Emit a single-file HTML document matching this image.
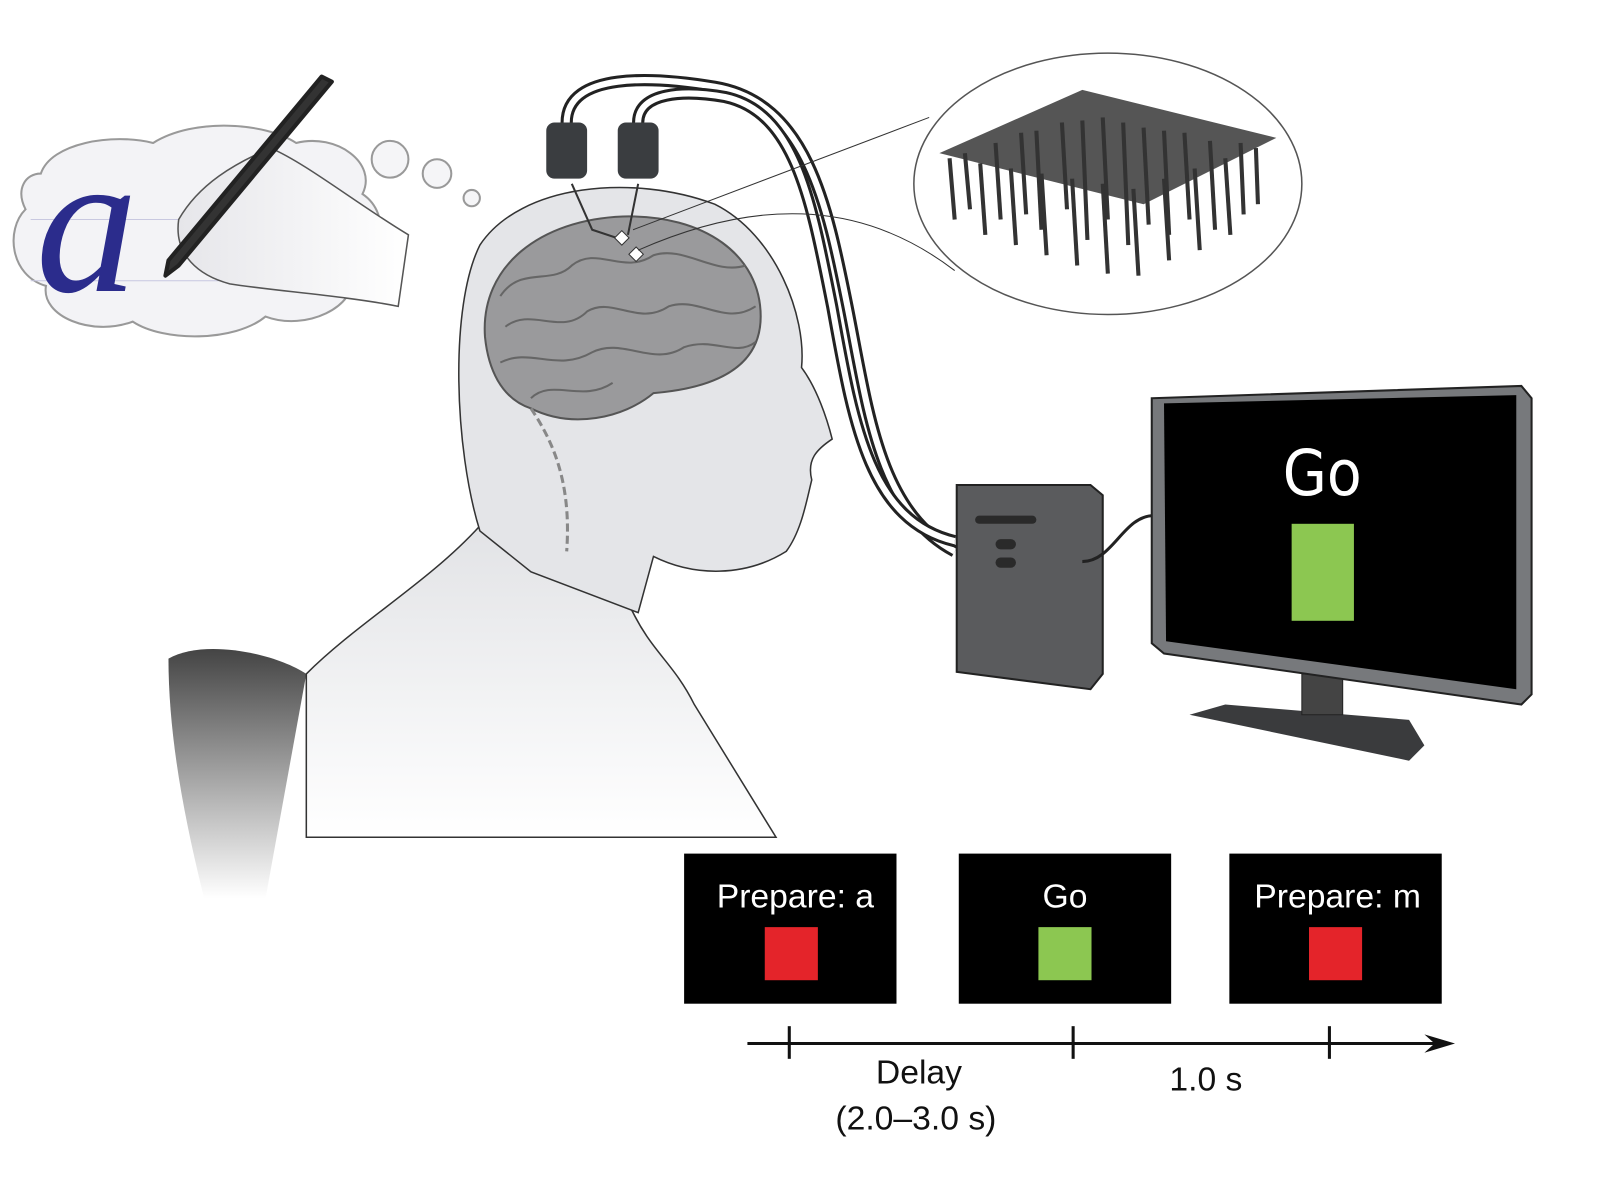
<!DOCTYPE html>
<html><head><meta charset="utf-8"><style>
html,body{margin:0;padding:0;background:#fff;}
svg{display:block}
</style></head><body>
<svg width="1600" height="1200" viewBox="0 0 1567 1175.25" preserveAspectRatio="none" xmlns="http://www.w3.org/2000/svg" font-family="Liberation Sans, sans-serif">
<defs>
<linearGradient id="body" x1="0" y1="0" x2="0" y2="1">
<stop offset="0" stop-color="#e2e3e6"/><stop offset="1" stop-color="#ffffff"/></linearGradient>
<linearGradient id="chair" x1="0" y1="0" x2="0" y2="1">
<stop offset="0" stop-color="#444"/><stop offset="1" stop-color="#fff"/></linearGradient>
<linearGradient id="hand" x1="0" y1="0" x2="1" y2="0">
<stop offset="0" stop-color="#e6e6ea"/><stop offset="1" stop-color="#ffffff"/></linearGradient>
</defs>
<rect width="1567" height="1176" fill="#fff"/>
<path d="M40,170 C50,140 110,130 150,140 C190,115 260,120 290,140 C330,130 370,160 355,190 C385,210 375,260 345,270 C350,300 300,325 260,310 C230,335 160,335 130,315 C90,330 40,310 45,280 C10,270 5,225 25,205 C15,185 25,170 40,170 Z" fill="#f3f3f6" stroke="#999" stroke-width="2"/>
<line x1="30" y1="215" x2="350" y2="215" stroke="#c8c8e0" stroke-width="1"/>
<line x1="30" y1="275" x2="350" y2="275" stroke="#c8c8e0" stroke-width="1"/>
<text x="35" y="285" style="font-family:'Liberation Serif',serif;font-style:italic;font-size:200px" fill="#2b2c8c">a</text>
<circle cx="382" cy="156" r="18" fill="#f5f5f7" stroke="#999" stroke-width="2"/>
<circle cx="428" cy="170" r="14" fill="#f5f5f7" stroke="#999" stroke-width="2"/>
<circle cx="462" cy="194" r="8" fill="#f5f5f7" stroke="#999" stroke-width="2"/>
<path d="M175,215 C195,180 230,160 265,145 C300,160 350,200 400,230 L390,300 C340,290 270,285 225,278 C195,270 170,250 175,215 Z" fill="url(#hand)" stroke="#555" stroke-width="1.5"/>
<path d="M315,75 L325,80 L175,260 L162,270 L165,255 Z" fill="#333" stroke="#222" stroke-width="4" stroke-linejoin="round"/>
<path d="M165,645 C200,625 270,640 300,660 L260,880 L200,880 C180,800 165,720 165,645 Z" fill="url(#chair)"/>
<path d="M300,660 C350,610 420,570 470,515 L520,520 C560,540 600,560 620,600 C640,640 660,650 680,690 L760,820 L300,820 Z" fill="url(#body)" stroke="#333" stroke-width="1.5"/>
<path d="M470,520 C445,440 440,300 470,240 C510,180 620,170 700,200 C760,230 790,310 785,360 C800,380 810,410 815,430 C800,440 790,450 795,470 C790,490 785,520 770,540 C730,565 680,565 640,545 L625,600 L520,560 Z" fill="#e4e5e8" stroke="#333" stroke-width="1.5"/>
<path d="M475,330 C470,260 530,215 610,212 C690,210 745,250 745,310 C745,360 700,380 640,385 C610,410 560,420 520,400 C490,390 478,360 475,330 Z" fill="#9a9a9c" stroke="#555" stroke-width="2"/>
<path d="M490,290 C510,260 540,280 560,260 C585,240 610,270 640,250 C670,240 700,270 730,260 M495,320 C520,300 550,330 575,305 C600,290 625,320 655,300 C685,290 710,320 740,300 M490,355 C520,340 545,365 580,345 C610,330 640,360 670,340 C700,330 720,350 740,335 M520,390 C540,370 570,395 600,375" stroke="#666" stroke-width="2" fill="none"/>
<path d="M520,400 C540,430 560,470 555,540" stroke="#888" stroke-width="3" stroke-dasharray="8 4" fill="none"/>
<path d="M555,120 C555,70 640,75 700,85 C790,100 810,200 830,300 C850,400 860,500 935,540" stroke="#222" stroke-width="12" fill="none"/>
<path d="M555,120 C555,70 640,75 700,85 C790,100 810,200 830,300 C850,400 860,500 935,540" stroke="#fff" stroke-width="6" fill="none"/>
<path d="M625,120 C625,90 670,88 710,95 C780,110 795,200 815,300 C835,410 850,510 935,530" stroke="#222" stroke-width="12" fill="none"/>
<path d="M625,120 C625,90 670,88 710,95 C780,110 795,200 815,300 C835,410 850,510 935,530" stroke="#fff" stroke-width="6" fill="none"/>
<rect x="535" y="120" width="40" height="55" rx="8" fill="#3a3d40"/>
<rect x="605" y="120" width="40" height="55" rx="8" fill="#3a3d40"/>
<path d="M560,180 L580,225 L610,235 M625,180 L615,230" stroke="#333" stroke-width="2" fill="none"/>
<rect x="604" y="228" width="10" height="10" fill="#fff" stroke="#333" transform="rotate(45 609 233)"/>
<rect x="618" y="244" width="10" height="10" fill="#fff" stroke="#333" transform="rotate(45 623 249)"/>
<line x1="620" y1="225" x2="910" y2="115" stroke="#333" stroke-width="1"/>
<path d="M625,245 C750,190 850,200 935,265" stroke="#333" stroke-width="1" fill="none"/>
<ellipse cx="1085" cy="180" rx="190" ry="128" fill="#fff" stroke="#555" stroke-width="1.5"/>
<polygon points="920,150 1060,88 1250,135 1120,200" fill="#555"/>
<g stroke="#333" stroke-width="4">
<line x1="930" y1="155" x2="935" y2="215"/><line x1="960" y1="160" x2="965" y2="230"/>
<line x1="990" y1="165" x2="995" y2="240"/><line x1="1020" y1="170" x2="1025" y2="250"/>
<line x1="1050" y1="175" x2="1055" y2="260"/><line x1="1080" y1="180" x2="1085" y2="268"/>
<line x1="1110" y1="185" x2="1115" y2="270"/><line x1="1140" y1="175" x2="1145" y2="255"/>
<line x1="1170" y1="165" x2="1175" y2="245"/><line x1="1200" y1="155" x2="1205" y2="230"/>
<line x1="1230" y1="145" x2="1232" y2="200"/><line x1="1000" y1="130" x2="1005" y2="210"/>
<line x1="1040" y1="120" x2="1045" y2="205"/><line x1="1080" y1="115" x2="1085" y2="215"/>
<line x1="1120" y1="125" x2="1125" y2="220"/><line x1="1160" y1="130" x2="1165" y2="215"/>
<line x1="945" y1="150" x2="950" y2="205"/><line x1="975" y1="140" x2="980" y2="215"/>
<line x1="1015" y1="128" x2="1020" y2="225"/><line x1="1060" y1="118" x2="1065" y2="235"/>
<line x1="1100" y1="120" x2="1105" y2="240"/><line x1="1140" y1="128" x2="1145" y2="230"/>
<line x1="1185" y1="138" x2="1190" y2="225"/><line x1="1215" y1="140" x2="1218" y2="210"/>
</g>
<path d="M937,475 L1068,475 L1080,485 L1080,660 L1068,675 L937,658 Z" fill="#5a5b5d" stroke="#222" stroke-width="2"/>
<rect x="955" y="505" width="60" height="8" rx="4" fill="#2a2a2a"/>
<rect x="975" y="528" width="20" height="10" rx="5" fill="#2a2a2a"/>
<rect x="975" y="546" width="20" height="10" rx="5" fill="#2a2a2a"/>
<path d="M1060,550 C1090,550 1100,505 1130,505" stroke="#222" stroke-width="3" fill="none"/>
<path d="M1200,690 L1380,705 L1395,730 L1380,745 L1165,700 Z" fill="#3a3b3d"/>
<rect x="1275" y="660" width="40" height="40" fill="#444" stroke="#222"/>
<path d="M1128,390 L1490,378 L1500,390 L1500,680 L1490,690 L1140,640 L1128,630 Z" fill="#77797c" stroke="#222" stroke-width="2"/>
<path d="M1140,395 L1485,387 L1485,675 L1142,628 Z" fill="#000"/>
<text x="1295" y="485" style="font-family:'DejaVu Sans Condensed','DejaVu Sans',sans-serif;font-size:62px" fill="#fff" text-anchor="middle">Go</text>
<rect x="1265" y="513" width="61" height="95" fill="#8cc751"/>
<rect x="670" y="836" width="208" height="147" fill="#000"/>
<rect x="939" y="836" width="208" height="147" fill="#000"/>
<rect x="1204" y="836" width="208" height="147" fill="#000"/>
<text x="779" y="889" font-size="33" fill="#fff" text-anchor="middle">Prepare: a</text>
<text x="1043" y="889" font-size="33" fill="#fff" text-anchor="middle">Go</text>
<text x="1310" y="889" font-size="33" fill="#fff" text-anchor="middle">Prepare: m</text>
<rect x="749" y="908" width="52" height="52" fill="#e4242a"/>
<rect x="1017" y="908" width="52" height="52" fill="#8cc751"/>
<rect x="1282" y="908" width="52" height="52" fill="#e4242a"/>
<line x1="732" y1="1022" x2="1410" y2="1022" stroke="#111" stroke-width="3"/>
<polygon points="1425,1022 1395,1013 1405,1022 1395,1031" fill="#111"/>
<line x1="773" y1="1005" x2="773" y2="1037" stroke="#111" stroke-width="3"/>
<line x1="1051" y1="1005" x2="1051" y2="1037" stroke="#111" stroke-width="3"/>
<line x1="1302" y1="1005" x2="1302" y2="1037" stroke="#111" stroke-width="3"/>
<text x="900" y="1061" font-size="33" fill="#111" text-anchor="middle">Delay</text>
<text x="897" y="1106" font-size="33" fill="#111" text-anchor="middle">(2.0–3.0 s)</text>
<text x="1181" y="1068" font-size="33" fill="#111" text-anchor="middle">1.0 s</text>
</svg>
</body></html>
